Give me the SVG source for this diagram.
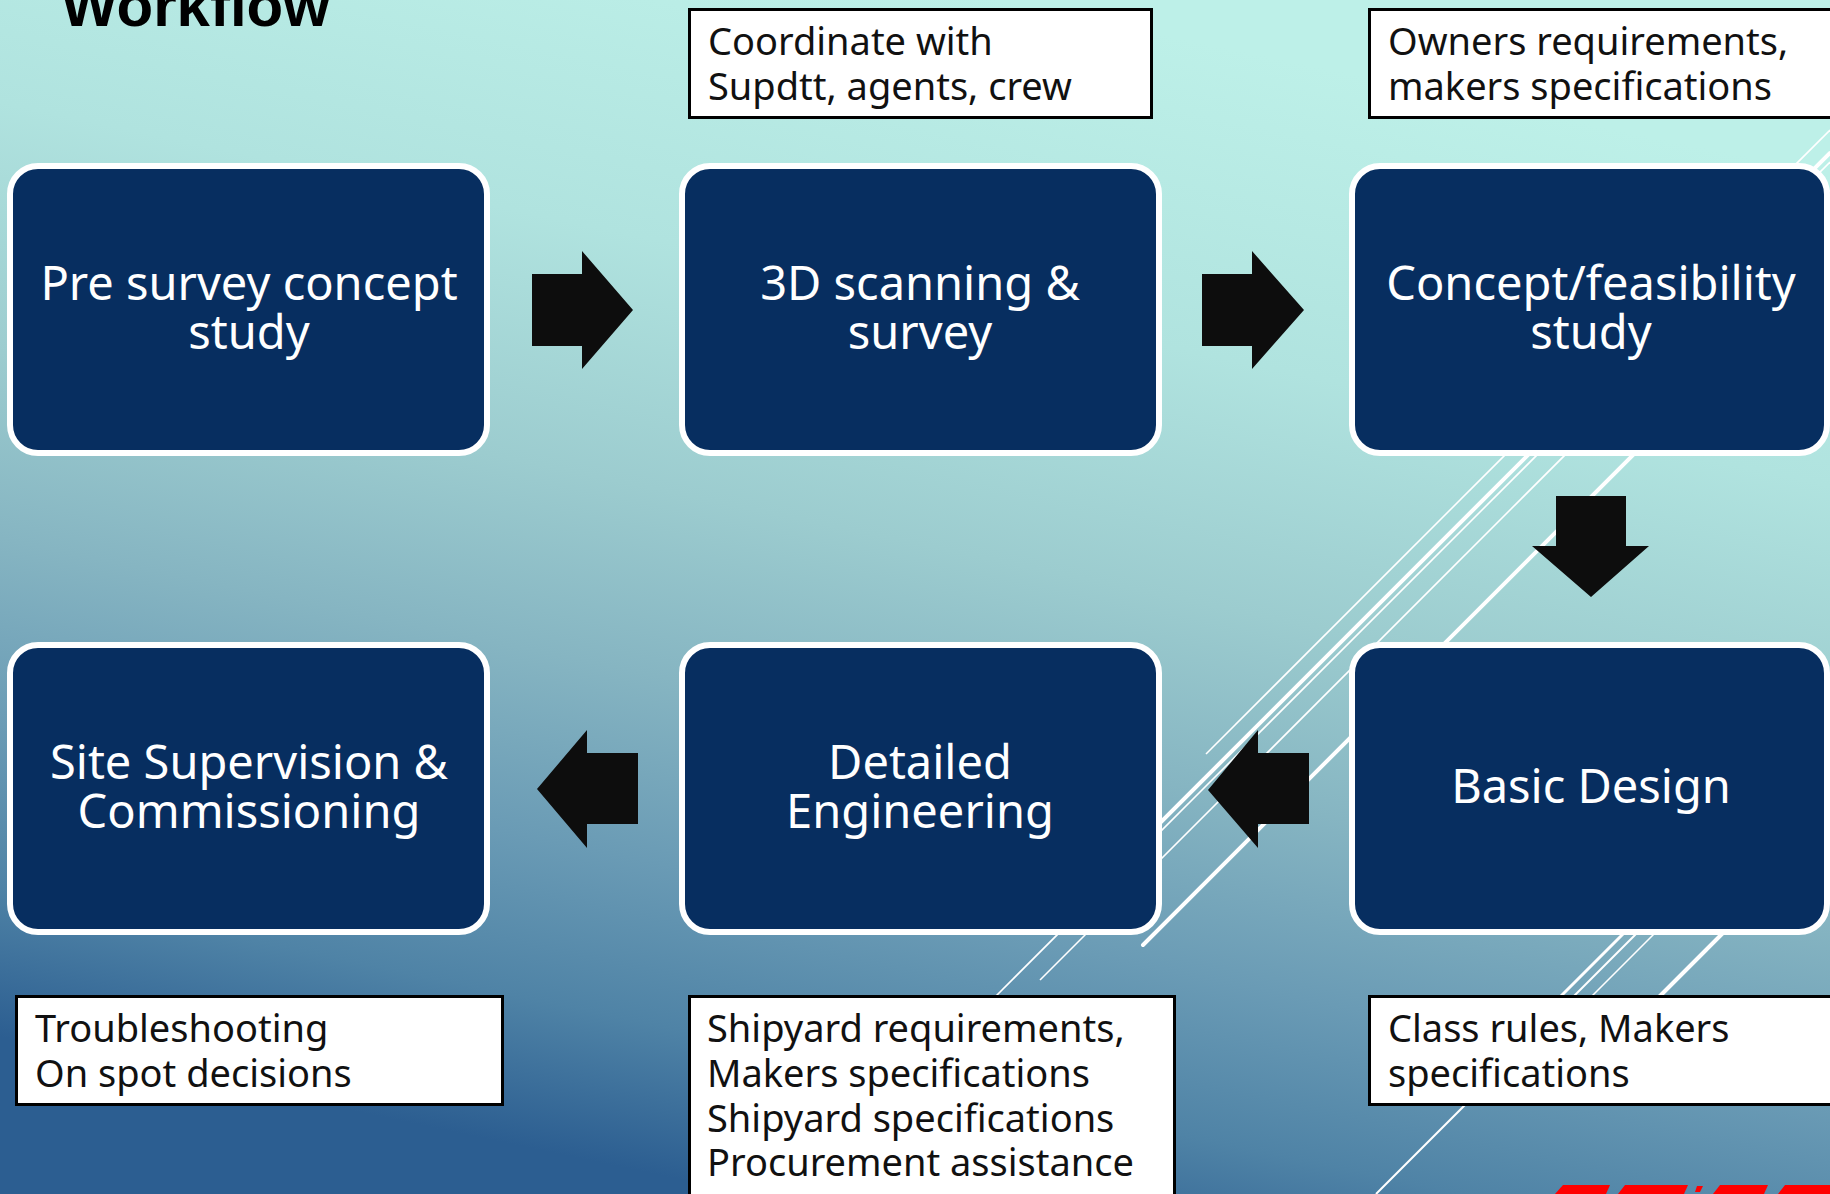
<svg xmlns="http://www.w3.org/2000/svg" width="1830" height="1194" viewBox="0 0 1830 1194">
  <defs>
    <linearGradient id="bg" gradientUnits="userSpaceOnUse" x1="1000" y1="0" x2="750" y2="1194">
      <stop offset="0" stop-color="#bdf0e8"/>
      <stop offset="0.25" stop-color="#b0e3df"/>
      <stop offset="0.45" stop-color="#9ccccf"/>
      <stop offset="0.6" stop-color="#86b5c2"/>
      <stop offset="0.75" stop-color="#6a9bb5"/>
      <stop offset="0.88" stop-color="#4f83a6"/>
      <stop offset="1" stop-color="#2c5e91"/>
    </linearGradient>
    <style>
      .step { fill: #072e60; stroke: #ffffff; stroke-width: 6; }
      .steptext { font-family: "Noto Sans", "DejaVu Sans", sans-serif; font-size: 47px; fill: #ffffff; text-anchor: middle; }
      .note { fill: #ffffff; stroke: #000000; stroke-width: 3; }
      .notetext { font-family: "Noto Sans", "DejaVu Sans", sans-serif; font-size: 38px; fill: #111111; }
      .arrow { fill: #0d0d0d; }
      .thin { stroke: #ffffff; stroke-width: 1.6; fill: none; }
      .thick { stroke: #ffffff; stroke-width: 4; fill: none; stroke-linecap: round; }
      .logo { fill: #ff0000; }
    </style>
  </defs>

  <rect x="0" y="0" width="1830" height="1194" fill="url(#bg)"/>

  <g id="decor-lines">
    <line class="thin" x1="1830" y1="130" x2="1206" y2="754"/>
    <line class="thick" x1="1830" y1="153" x2="1100" y2="883"/>
    <line class="thin" x1="1830" y1="162" x2="990" y2="1002"/>
    <line class="thin" x1="1830" y1="190" x2="1040" y2="980"/>
    <line class="thick" x1="1830" y1="258" x2="1143" y2="945"/>
    <line class="thick" style="stroke-width:3" x1="1700" y1="857" x2="1560" y2="997"/>
    <line class="thin" style="stroke-width:2" x1="1700" y1="870" x2="1376" y2="1194"/>
    <line class="thin" x1="1720" y1="868" x2="1590" y2="998"/>
    <line class="thick" x1="1780" y1="876" x2="1659" y2="997"/>
  </g>

  <g id="logo">
    <polygon class="logo" points="1563,1185 1610,1185 1606,1194 1555,1194"/>
    <polygon class="logo" points="1625,1185 1688,1185 1684,1194 1618,1194"/>
    <polygon class="logo" points="1697,1186 1703,1186 1700,1192 1695,1192"/>
    <polygon class="logo" points="1720,1185 1768,1185 1764,1194 1713,1194"/>
    <polygon class="logo" points="1785,1185 1830,1185 1830,1194 1778,1194"/>
  </g>

  <text x="61" y="26" font-family="Liberation Sans, Arial, sans-serif" font-weight="bold" font-size="60" fill="#000000">Workflow</text>

  <g id="note-coordinate">
    <rect class="note" x="689.5" y="9.5" width="462" height="108"/>
    <text class="notetext" x="708" y="55">Coordinate with</text>
    <text class="notetext" x="708" y="100">Supdtt, agents, crew</text>
  </g>
  <g id="note-owners">
    <rect class="note" x="1369.5" y="9.5" width="480" height="108"/>
    <text class="notetext" x="1388" y="55">Owners requirements,</text>
    <text class="notetext" x="1388" y="100">makers specifications</text>
  </g>
  <g id="note-troubleshooting">
    <rect class="note" x="16.5" y="996.5" width="486" height="108"/>
    <text class="notetext" x="35" y="1042">Troubleshooting</text>
    <text class="notetext" x="35" y="1087">On spot decisions</text>
  </g>
  <g id="note-shipyard">
    <rect class="note" x="689.5" y="996.5" width="485" height="230"/>
    <text class="notetext" x="707" y="1042">Shipyard requirements,</text>
    <text class="notetext" x="707" y="1087">Makers specifications</text>
    <text class="notetext" x="707" y="1132">Shipyard specifications</text>
    <text class="notetext" x="707" y="1176">Procurement assistance</text>
  </g>
  <g id="note-class">
    <rect class="note" x="1369.5" y="996.5" width="480" height="108"/>
    <text class="notetext" x="1388" y="1042">Class rules, Makers</text>
    <text class="notetext" x="1388" y="1087">specifications</text>
  </g>

  <g id="step-presurvey">
    <rect class="step" x="10" y="166" width="477" height="287" rx="28"/>
    <text class="steptext" x="249" y="300">Pre survey concept</text>
    <text class="steptext" x="249" y="349">study</text>
  </g>
  <g id="step-scanning">
    <rect class="step" x="682" y="166" width="477" height="287" rx="28"/>
    <text class="steptext" x="920" y="300">3D scanning &amp;</text>
    <text class="steptext" x="920" y="349">survey</text>
  </g>
  <g id="step-concept">
    <rect class="step" x="1352" y="166" width="475" height="287" rx="28"/>
    <text class="steptext" x="1591" y="300">Concept/feasibility</text>
    <text class="steptext" x="1591" y="349">study</text>
  </g>
  <g id="step-site">
    <rect class="step" x="10" y="645" width="477" height="287" rx="28"/>
    <text class="steptext" x="249" y="779">Site Supervision &amp;</text>
    <text class="steptext" x="249" y="828">Commissioning</text>
  </g>
  <g id="step-detailed">
    <rect class="step" x="682" y="645" width="477" height="287" rx="28"/>
    <text class="steptext" x="920" y="779">Detailed</text>
    <text class="steptext" x="920" y="828">Engineering</text>
  </g>
  <g id="step-basic">
    <rect class="step" x="1352" y="645" width="475" height="287" rx="28"/>
    <text class="steptext" x="1591" y="803">Basic Design</text>
  </g>

  <g id="connectors">
    <polygon class="arrow" points="532,274 582,274 582,251 633,310 582,369 582,346 532,346"/>
    <polygon class="arrow" points="1202,274 1252,274 1252,251 1304,310 1252,369 1252,346 1202,346"/>
    <polygon class="arrow" points="1556,496 1626,496 1626,546 1649,546 1591,597 1532,546 1556,546"/>
    <polygon class="arrow" points="1309,753 1258,753 1258,730 1208,790 1258,848 1258,824 1309,824"/>
    <polygon class="arrow" points="638,753 587,753 587,730 537,789 587,848 587,824 638,824"/>
  </g>
</svg>
